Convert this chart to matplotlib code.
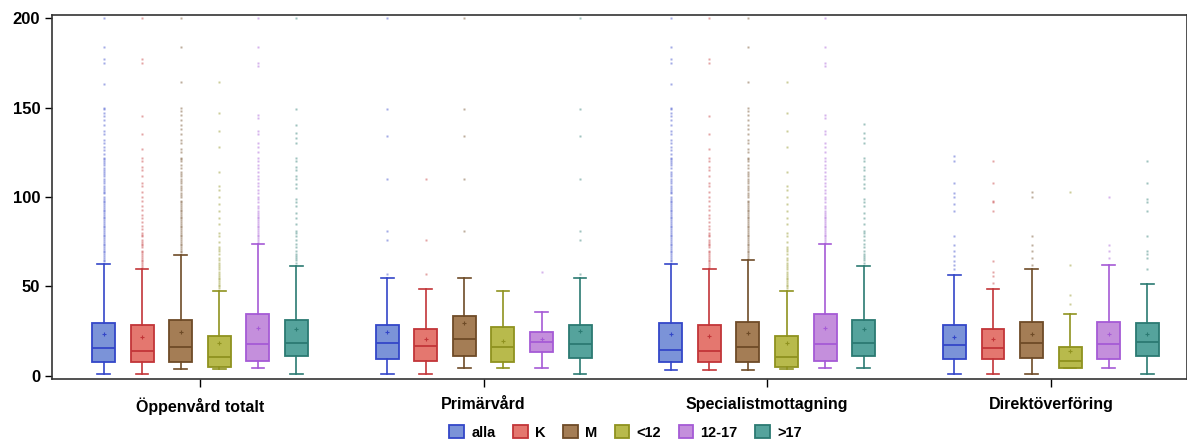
import matplotlib
matplotlib.use("Agg")
import matplotlib.pyplot as plt
from matplotlib.patches import Patch

plt.rcParams['font.family'] = ['Liberation Sans', 'DejaVu Sans']

categories = ['Öppenvård totalt', 'Primärvård', 'Specialistmottagning', 'Direktöverföring']
groups = ['alla', 'K', 'M', '<12', '12-17', '>17']
fill_colors = ['#7b93d8', '#e4776f', '#a47d55', '#b8ba4c', '#c48fdc', '#55a39c']
edge_colors = ['#3346c8', '#c23538', '#6e4b27', '#8f921f', '#a55ad6', '#2b7a72']

# rows = categories, columns = groups
q1 = [[8, 8, 8, 5.2, 8.6, 11.3],
      [9.3, 8.4, 11.3, 8, 13.4, 10],
      [8, 8, 8, 5.2, 8.6, 11.3],
      [9.3, 9.3, 10.2, 4.3, 9.3, 11.2]]
med = [[15.6, 13.8, 16, 10.8, 17.7, 18.6],
       [18.6, 16.8, 20.7, 16, 18.8, 17.9],
       [14.5, 13.8, 16, 10.8, 17.7, 18.6],
       [17.3, 15.8, 18.6, 8.6, 17.7, 19.2]]
q3 = [[29.4, 28.5, 31.3, 22.5, 34.5, 31.3],
      [28.7, 26.4, 33.7, 27.5, 24.4, 28.7],
      [29.4, 28.5, 30.3, 22.5, 34.5, 31.3],
      [28.7, 26, 30.3, 16.4, 30.3, 29.4]]
mean = [[23.5, 22, 24.4, 18.3, 26.8, 26],
        [24.4, 20.5, 29.6, 19.6, 20.5, 24.9],
        [23.5, 22.3, 24.2, 18.3, 26.8, 26],
        [22, 20.5, 23.3, 14.1, 23.3, 23.3]]
whis_lo = [[1, 1, 3.7, 4, 4.5, 1],
           [1, 1, 4.5, 4.5, 4.5, 1],
           [3.4, 3.4, 3.4, 4, 4.5, 4.5],
           [1, 1, 1, 4.3, 4.5, 1]]
whis_hi = [[62.4, 59.6, 67.4, 47.5, 73.6, 61.5],
           [54.6, 48.4, 54.6, 47.5, 35.6, 54.6],
           [62.4, 59.6, 64.8, 47.5, 73.6, 61.5],
           [56.4, 48.4, 59.6, 34.6, 61.9, 51.4]]

fliers_oppen = [
    [64, 65, 66, 67, 68, 69, 70, 71, 72, 73, 74, 75, 76, 77, 78, 79, 80, 81, 82, 83, 84, 85, 86, 87, 88, 89, 90,
     91, 92, 93, 94, 95, 96, 97, 98, 99, 100, 102, 103, 104, 105, 106, 108, 109, 110, 112, 113, 114, 115, 116,
     118, 119, 120, 121, 122, 124, 126, 128, 130, 132, 135, 137, 140, 143, 145, 147, 149, 150, 163, 175, 177,
     184, 200],
    [61, 62, 63, 64, 65, 66, 67, 68, 69, 70, 72, 73, 74, 75, 76, 78, 79, 80, 82, 84, 86, 88, 90, 93, 95, 98, 100,
     103, 106, 108, 112, 115, 117, 120, 122, 127, 135, 145, 175, 177, 200],
    [69, 70, 71, 72, 73, 74, 75, 76, 77, 78, 79, 80, 81, 82, 83, 84, 85, 86, 87, 88, 89, 90, 91, 92, 93, 94, 95,
     96, 97, 98, 100, 101, 102, 104, 105, 106, 108, 109, 110, 112, 113, 114, 116, 118, 120, 121, 122, 125, 127,
     130, 132, 135, 138, 140, 143, 146, 148, 150, 164, 184, 200],
    [49, 50, 51, 52, 53, 54, 55, 56, 57, 58, 60, 61, 62, 63, 65, 66, 68, 70, 71, 72, 75, 78, 80, 85, 88, 92, 96,
     100, 104, 106, 114, 128, 137, 147, 164],
    [75, 76, 77, 78, 79, 80, 81, 82, 83, 84, 85, 86, 87, 88, 89, 90, 91, 92, 94, 95, 97, 99, 100, 102, 104, 106,
     108, 110, 112, 114, 116, 118, 120, 122, 125, 128, 130, 135, 137, 144, 146, 173, 175, 184, 200],
    [63, 65, 66, 67, 68, 70, 72, 74, 76, 78, 80, 81, 85, 88, 91, 95, 97, 99, 105, 107, 110, 112, 115, 117, 120,
     122, 130, 133, 136, 140, 149, 200],
]
fliers_prim = [
    [57, 76, 81, 110, 134, 149, 200],
    [57, 76, 110],
    [81, 110, 134, 149, 200],
    [],
    [58],
    [57, 76, 81, 110, 134, 149, 200],
]
fliers_spec = [
    [64, 65, 66, 67, 68, 69, 70, 71, 72, 73, 74, 75, 76, 77, 78, 79, 80, 81, 82, 83, 84, 85, 86, 87, 88, 89, 90,
     91, 92, 93, 94, 95, 96, 97, 98, 99, 100, 102, 103, 104, 105, 106, 108, 109, 110, 112, 113, 114, 116, 118,
     119, 120, 121, 122, 124, 126, 128, 130, 132, 135, 137, 140, 143, 145, 147, 149, 150, 163, 175, 177, 184, 200],
    [61, 62, 63, 64, 65, 66, 67, 68, 69, 70, 72, 73, 74, 75, 76, 78, 79, 80, 82, 84, 86, 88, 90, 93, 95, 98, 100,
     103, 106, 108, 112, 115, 117, 120, 122, 127, 135, 145, 175, 177, 200],
    [66, 67, 68, 69, 70, 71, 72, 73, 74, 75, 76, 77, 78, 79, 80, 81, 82, 83, 84, 85, 86, 87, 88, 89, 90, 91, 92,
     93, 94, 95, 96, 97, 98, 100, 101, 102, 104, 105, 106, 108, 109, 110, 112, 113, 114, 116, 118, 120, 121, 122,
     125, 127, 130, 132, 135, 138, 140, 143, 146, 148, 150, 164, 184, 200],
    [49, 50, 51, 52, 53, 54, 55, 56, 57, 58, 60, 61, 62, 63, 65, 66, 68, 70, 71, 72, 75, 78, 80, 85, 88, 92, 96,
     100, 104, 106, 114, 128, 137, 147, 164],
    [75, 76, 77, 78, 79, 80, 81, 82, 83, 84, 85, 86, 87, 88, 89, 90, 91, 92, 94, 95, 97, 99, 100, 102, 104, 106,
     108, 110, 112, 114, 116, 118, 120, 122, 125, 128, 130, 135, 137, 144, 146, 173, 175, 184, 200],
    [63, 65, 66, 67, 68, 70, 72, 74, 76, 78, 80, 81, 85, 88, 91, 95, 97, 99, 105, 107, 110, 112, 115, 117, 120,
     122, 130, 133, 136, 141],
]
fliers_dir = [
    [60, 62, 64, 67, 70, 73, 78, 92, 96, 100, 102, 108, 120, 123],
    [52, 56, 58, 64, 92, 97, 98, 108, 120],
    [62, 66, 70, 73, 78, 100, 103],
    [40, 45, 62, 103],
    [66, 70, 73, 100],
    [60, 66, 68, 70, 78, 92, 97, 99, 108, 120],
]
fliers = [fliers_oppen, fliers_prim, fliers_spec, fliers_dir]

fig = plt.figure(figsize=(11.87, 4.44), dpi=100)
ax = fig.add_axes([0.0438, 0.1464, 0.9562, 0.8198])

step = 0.136
width = 0.081
for c in range(len(categories)):
    for g in range(len(groups)):
        pos = c + (g - 2.5) * step
        st = dict(q1=q1[c][g], med=med[c][g], q3=q3[c][g], mean=mean[c][g],
                  whislo=whis_lo[c][g], whishi=whis_hi[c][g], fliers=fliers[c][g])
        ec = edge_colors[g]
        ax.bxp([st], positions=[pos], widths=width, patch_artist=True, showmeans=True,
               capwidths=width * 0.55,
               boxprops=dict(facecolor=fill_colors[g], edgecolor=ec, linewidth=1.3),
               medianprops=dict(color=ec, linewidth=1.3),
               whiskerprops=dict(color=ec, linewidth=1.2),
               capprops=dict(color=ec, linewidth=1.2),
               meanprops=dict(marker='+', markersize=3, markeredgecolor=ec, markeredgewidth=0.8),
               flierprops=dict(marker='s', markersize=1.5, markerfacecolor=ec, markeredgecolor='none',
                               alpha=0.45))

ax.set_xlim(-0.522, 3.48)
ax.set_ylim(-1.7, 201.7)
ax.set_yticks([0, 50, 100, 150, 200])
ax.set_xticks(range(len(categories)))
ax.set_xticklabels(categories, fontsize=11.5, fontweight='bold')
ax.tick_params(axis='y', labelsize=12, length=5, width=1)
ax.tick_params(axis='x', length=6, width=1, pad=7)
for lab in ax.get_yticklabels():
    lab.set_fontweight('bold')
for s in ax.spines.values():
    s.set_linewidth(1.2)
    s.set_color('#333333')

handles = [Patch(facecolor=fill_colors[i], edgecolor=edge_colors[i], linewidth=1.3) for i in range(len(groups))]
fig.legend(handles, groups, loc='lower center', bbox_to_anchor=(0.527, -0.02), ncol=6, frameon=False,
           prop=dict(weight='bold', size=10.5), handlelength=1.0, handleheight=1.0, columnspacing=1.2,
           handletextpad=0.5)

fig.savefig('out.png', dpi=100)
